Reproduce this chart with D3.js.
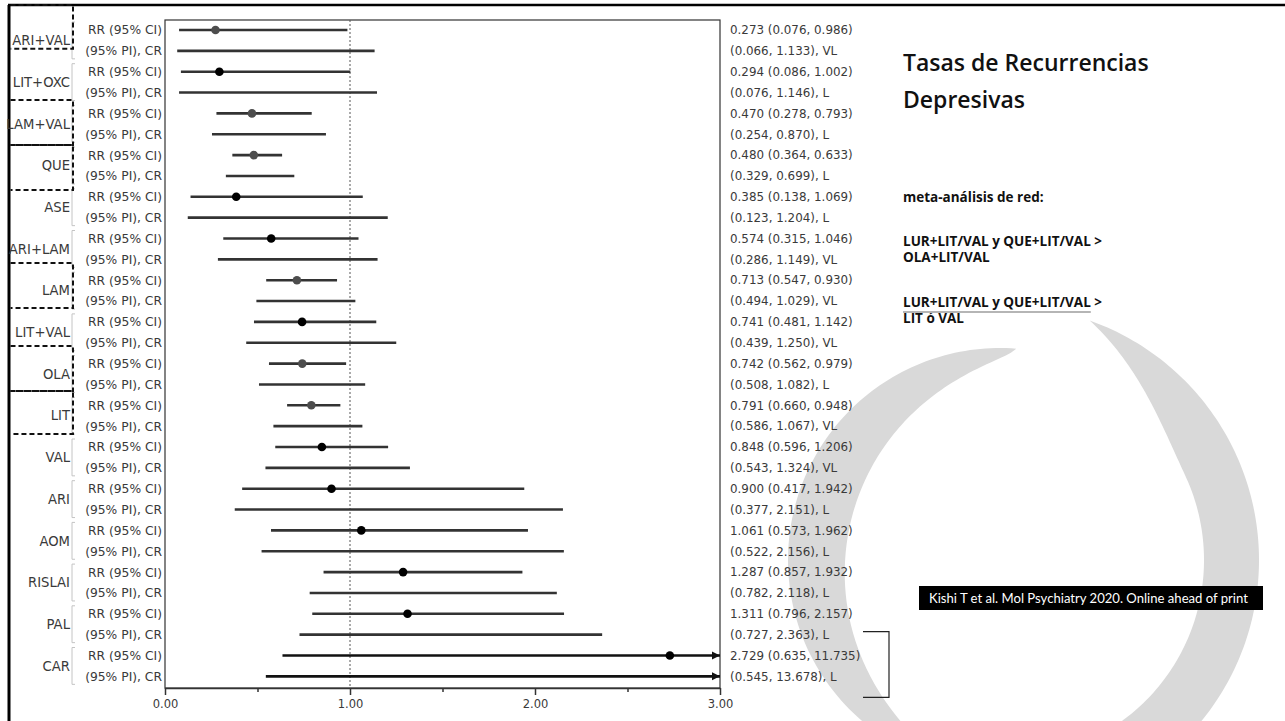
<!DOCTYPE html>
<html>
<head>
<meta charset="utf-8">
<script src="https://cdn.jsdelivr.net/npm/d3@7"></script>
<style>
  body { margin: 0; background: #fff; }
  svg { display: block; }
</style>
</head>
<body>
<svg id="chart" width="1285" height="721"></svg>
<script>
// Treatments, ordered top to bottom
const drugs = ["ARI+VAL", "LIT+OXC", "LAM+VAL", "QUE", "ASE", "ARI+LAM", "LAM", "LIT+VAL",
               "OLA", "LIT", "VAL", "ARI", "AOM", "RISLAI", "PAL", "CAR"];
// Risk ratio with 95% confidence interval
const rr     = [0.273, 0.294, 0.470, 0.480, 0.385, 0.574, 0.713, 0.741, 0.742, 0.791, 0.848, 0.900, 1.061, 1.287, 1.311, 2.729];
const ciLow  = [0.076, 0.086, 0.278, 0.364, 0.138, 0.315, 0.547, 0.481, 0.562, 0.660, 0.596, 0.417, 0.573, 0.857, 0.796, 0.635];
const ciHigh = [0.986, 1.002, 0.793, 0.633, 1.069, 1.046, 0.930, 1.142, 0.979, 0.948, 1.206, 1.942, 1.962, 1.932, 2.157, 11.735];
// 95% prediction interval and confidence rating (CINeMA)
const piLow  = [0.066, 0.076, 0.254, 0.329, 0.123, 0.286, 0.494, 0.439, 0.508, 0.586, 0.543, 0.377, 0.522, 0.782, 0.727, 0.545];
const piHigh = [1.133, 1.146, 0.870, 0.699, 1.204, 1.149, 1.029, 1.250, 1.082, 1.067, 1.324, 2.151, 2.156, 2.118, 2.363, 13.678];
const rating = ["VL", "L", "L", "L", "L", "VL", "VL", "VL", "L", "VL", "VL", "L", "L", "L", "L", "L"];
// Treatments singled out with a dashed frame
const highlighted = ["ARI+VAL", "LAM+VAL", "QUE", "LAM", "OLA", "LIT"];
// Axis ticks
const majorTicks = [0, 1, 2, 3];
const minorTicks = [0.5, 1.5, 2.5];
const rowLabels = ["RR (95% CI)", "(95% PI), CR"];

const svg = d3.select("#chart");
const f3 = d3.format(".3f");
const FONT = "'DejaVu Sans', Verdana, sans-serif";
const TXT = "#3a3a3a";

// ---- background emblem (light grey swooshes) ----
// ribbon along a circle, tapered by a width function of the angle
function ribbon(cx, cy, rOut, t0, t1, widthAt, n = 120) {
  const outer = [], inner = [];
  for (let k = 0; k <= n; k++) {
    const t = t0 + (t1 - t0) * k / n;
    const r2 = rOut - Math.max(0, widthAt(t) || 0);
    outer.push([cx + rOut * Math.sin(t), cy - rOut * Math.cos(t)]);
    inner.push([cx + r2 * Math.sin(t), cy - r2 * Math.cos(t)]);
  }
  return d3.line()(outer.concat(inner.reverse())) + "Z";
}
const wm = svg.append("g").attr("fill", "#d9d9d9");
// right-hand sweep
wm.append("path").attr("d", ribbon(1005, 560, 254, 0.34, 2.6,
  t => 55 * Math.sin(Math.min(1, (t - 0.34) / 0.8) * Math.PI / 2)));
// left-hand crescent, thin at both tips
const lt0 = 6.36, lt1 = 3.45;
wm.append("path").attr("d", ribbon(1000, 560, 212, lt0, lt1,
  t => 58 * Math.pow(Math.max(0, Math.sin(Math.PI * (lt0 - t) / (lt0 - lt1))), 0.7)));

// ---- outer frame ----
svg.append("line").attr("x1", 9).attr("y1", 5).attr("x2", 9).attr("y2", 721)
  .attr("stroke", "#000").attr("stroke-width", 3);
svg.append("line").attr("x1", 8).attr("y1", 5).attr("x2", 1285).attr("y2", 5)
  .attr("stroke", "#000").attr("stroke-width", 2.5);

// ---- scales ----
const plot = {left: 165, right: 720, top: 20, bottom: 688};
const x = d3.scaleLinear().domain([0, 3]).range([plot.left, plot.right]);
const rows = drugs.flatMap((d, i) => [
  {drug: d, i, kind: 0, lo: ciLow[i], hi: ciHigh[i], est: rr[i],
   text: `${f3(rr[i])} (${f3(ciLow[i])}, ${f3(ciHigh[i])})`},
  {drug: d, i, kind: 1, lo: piLow[i], hi: piHigh[i], est: null,
   text: `(${f3(piLow[i])}, ${f3(piHigh[i])}), ${rating[i]}`}
]);
const y = d3.scaleLinear().domain([0, rows.length - 1]).range([30, 676.35]);

// ---- plot frame ----
svg.append("rect")
  .attr("x", plot.left).attr("y", plot.top)
  .attr("width", plot.right - plot.left).attr("height", plot.bottom - plot.top)
  .attr("fill", "none").attr("stroke", "#333").attr("stroke-width", 1.2);

// reference line at RR = 1
svg.append("line")
  .attr("x1", x(1)).attr("x2", x(1)).attr("y1", plot.top).attr("y2", plot.bottom)
  .attr("stroke", "#555").attr("stroke-width", 1).attr("stroke-dasharray", "2,2");

// ---- axis ----
const axisG = svg.append("g").attr("transform", `translate(0,${plot.bottom})`)
  .call(d3.axisBottom(x).tickValues(majorTicks).tickFormat(d3.format(".2f"))
        .tickSize(7).tickSizeOuter(0).tickPadding(5));
axisG.select(".domain").attr("stroke", "#333").attr("stroke-width", 1.5);
axisG.selectAll(".tick line").attr("stroke", "#333").attr("stroke-width", 1.5);
axisG.selectAll(".tick text").attr("font-family", FONT).attr("font-size", 11.5).attr("fill", TXT);
const minorG = svg.append("g").attr("transform", `translate(0,${plot.bottom})`)
  .call(d3.axisBottom(x).tickValues(minorTicks).tickFormat("").tickSize(4));
minorG.select(".domain").remove();
minorG.selectAll(".tick line").attr("stroke", "#333").attr("stroke-width", 1.5);

// ---- arrow head for intervals running past the axis limit ----
svg.append("defs").append("marker")
  .attr("id", "arrow").attr("viewBox", "0 0 10 10").attr("refX", 10).attr("refY", 5)
  .attr("markerWidth", 3.2).attr("markerHeight", 3.2).attr("markerUnits", "strokeWidth")
  .attr("orient", "auto")
  .append("path").attr("d", "M0,0 L10,5 L0,10 Z").attr("fill", "#111");

// ---- intervals ----
const xmax = x.domain()[1];
svg.append("g").selectAll("line").data(rows).join("line")
  .attr("x1", d => x(d.lo))
  .attr("x2", d => x(Math.min(d.hi, xmax)))
  .attr("y1", d => y(d.i * 2 + d.kind))
  .attr("y2", d => y(d.i * 2 + d.kind))
  .attr("stroke", d => d.hi > xmax ? "#111" : "#333")
  .attr("stroke-width", 2.6)
  .attr("marker-end", d => d.hi > xmax ? "url(#arrow)" : null);

// point estimates
svg.append("g").selectAll("circle").data(rows.filter(d => d.kind === 0)).join("circle")
  .attr("cx", d => x(d.est))
  .attr("cy", d => y(d.i * 2))
  .attr("r", 4.3)
  .attr("fill", d => highlighted.includes(d.drug) ? "#4d4d4d" : "#000");

// ---- row labels ----
svg.append("g").selectAll("text").data(rows).join("text")
  .attr("x", plot.left - 3)
  .attr("y", d => y(d.i * 2 + d.kind))
  .attr("dy", "0.36em")
  .attr("text-anchor", "end")
  .attr("font-family", FONT).attr("font-size", 12.3).attr("fill", TXT)
  .text(d => rowLabels[d.kind]);

// value labels
svg.append("g").selectAll("text").data(rows).join("text")
  .attr("x", plot.right + 10)
  .attr("y", d => y(d.i * 2 + d.kind))
  .attr("dy", "0.36em")
  .attr("font-family", FONT).attr("font-size", 11.9).attr("fill", TXT)
  .text(d => d.text);

// ---- treatment labels with brackets ----
const grp = svg.append("g").selectAll("g").data(drugs).join("g");
grp.append("path")
  .attr("d", (d, i) => `M75,${y(i * 2) - 8}H72V${y(i * 2 + 1) + 8}H75`)
  .attr("fill", "none").attr("stroke", "#c4c4c4").attr("stroke-width", 1);
grp.append("text")
  .attr("x", 70)
  .attr("y", (d, i) => (y(i * 2) + y(i * 2 + 1)) / 2)
  .attr("dy", "0.36em")
  .attr("text-anchor", "end")
  .attr("font-family", FONT).attr("font-size", 13.2).attr("fill", TXT)
  .text(d => d);

// dashed frames around the highlighted treatments (extent in row units)
const frameExtent = {
  "ARI+VAL": [-1.2, 0.9], "LAM+VAL": [3.36, 5.51], "QUE": [5.51, 7.67],
  "LAM": [11.17, 13.33], "OLA": [15.15, 17.32], "LIT": [17.32, 19.38]
};
const dash = svg.append("g").attr("stroke", "#111").attr("stroke-width", 2)
  .attr("stroke-dasharray", "5,3").attr("fill", "none");
highlighted.forEach(name => {
  const [a, b] = frameExtent[name];
  dash.append("path").attr("d", `M10.5,${y(a)}H73V${y(b)}H10.5`);
});

// bracket pairing the two open-ended rows on the right
svg.append("path")
  .attr("d", `M863,${y(29) - 3}H889V${y(31) + 21}H863`)
  .attr("fill", "none").attr("stroke", "#222").attr("stroke-width", 1.2);

// ---- side text ----
const side = svg.append("g").attr("font-family", "'Open Sans', sans-serif").attr("fill", "#111");
side.append("text").attr("x", 903).attr("y", 71).attr("font-size", 23).attr("font-weight", 600)
  .text("Tasas de Recurrencias");
side.append("text").attr("x", 903).attr("y", 108).attr("font-size", 23).attr("font-weight", 600)
  .text("Depresivas");
const notes = [
  {t: "meta-análisis de red:", y: 202},
  {t: "LUR+LIT/VAL y QUE+LIT/VAL >", y: 246},
  {t: "OLA+LIT/VAL", y: 262},
  {t: "LUR+LIT/VAL y QUE+LIT/VAL >", y: 307, underline: "LUR+LIT/VAL y QUE+LIT/VAL"},
  {t: "LIT ó VAL", y: 323}
];
const noteText = side.selectAll("text.note").data(notes).join("text").attr("class", "note")
  .attr("x", 903).attr("y", d => d.y)
  .attr("font-size", 13.5).attr("font-weight", 700)
  .text(d => d.t);
// underline under the leading part of the second comparison
noteText.filter(d => d.underline).each(function(d) {
  const w = this.getSubStringLength(0, d.underline.length);
  side.append("line").attr("x1", 903).attr("x2", 903 + w)
    .attr("y1", d.y + 5).attr("y2", d.y + 5)
    .attr("stroke", "#b5b5b5").attr("stroke-width", 2.2);
});

// citation box
const cite = svg.append("g");
cite.append("rect").attr("x", 919).attr("y", 586).attr("width", 344).attr("height", 24).attr("fill", "#000");
cite.append("text").attr("x", 929).attr("y", 598).attr("dy", "0.35em")
  .attr("font-family", "Lato, sans-serif").attr("font-size", 13.1).attr("fill", "#fff")
  .text("Kishi T et al. Mol Psychiatry 2020. Online ahead of print");
</script>
</body>
</html>
